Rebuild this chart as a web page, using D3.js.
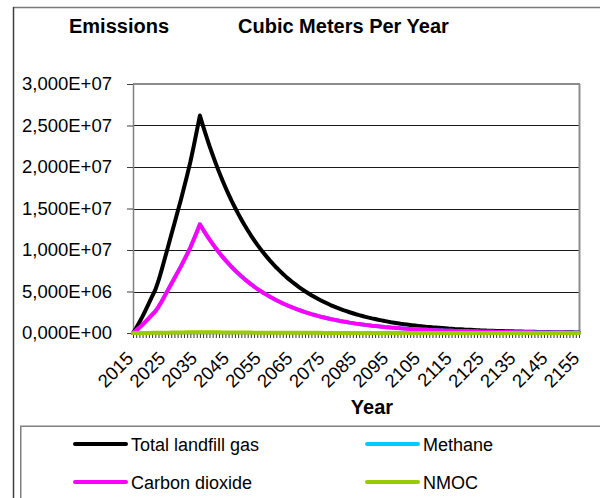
<!DOCTYPE html>
<html>
<head>
<meta charset="utf-8">
<script src="https://cdn.jsdelivr.net/npm/d3@7/dist/d3.min.js"></script>
<style>
  html, body { margin: 0; padding: 0; background: #fff; }
  svg { display: block; font-family: "Liberation Sans", Arial, sans-serif; }
</style>
</head>
<body>
<svg id="chart" width="600" height="498"></svg>
<script>
// ---- Data (values in millions of cubic metres per year) ----
const years = d3.range(2015, 2156);
const xTickLabels = ["2015","2025","2035","2045","2055","2065","2075","2085","2095","2105","2115","2125","2135","2145","2155"];
const yTickValues = [0, 5, 10, 15, 20, 25, 30];
const yTickLabels = ["0,000E+00","5,000E+06","1,000E+07","1,500E+07","2,000E+07","2,500E+07","3,000E+07"];
const seriesNames = ["Total landfill gas", "Methane", "Carbon dioxide", "NMOC"];
const seriesColors = ["#000000", "#00CCFF", "#FF00FF", "#99CC00"];

const totalGas = [
  0, 0.6, 1.3, 2.0, 2.8, 3.6, 4.4, 5.2, 6.3, 7.6, 9.0, 10.4, 11.8, 13.2, 14.6, 16.0, 17.5, 19.0, 20.6, 22.4, 24.3, 26.2,
  24.92, 23.71, 22.55, 21.45, 20.40, 19.41, 18.46, 17.56, 16.71, 15.89,
  15.12, 14.38, 13.68, 13.01, 12.38, 11.77, 11.20, 10.65, 10.13, 9.64,
  9.17, 8.72, 8.30, 7.89, 7.51, 7.14, 6.79, 6.46, 6.15, 5.85,
  5.56, 5.29, 5.03, 4.79, 4.55, 4.33, 4.12, 3.92, 3.73, 3.55,
  3.37, 3.21, 3.05, 2.90, 2.76, 2.63, 2.50, 2.38, 2.26, 2.15,
  2.05, 1.95, 1.85, 1.76, 1.68, 1.59, 1.52, 1.44, 1.37, 1.30,
  1.24, 1.18, 1.12, 1.07, 1.02, 0.97, 0.92, 0.88, 0.83, 0.79,
  0.75, 0.72, 0.68, 0.65, 0.62, 0.59, 0.56, 0.53, 0.51, 0.48,
  0.46, 0.44, 0.41, 0.39, 0.38, 0.36, 0.34, 0.32, 0.31, 0.29,
  0.28, 0.27, 0.25, 0.24, 0.23, 0.22, 0.21, 0.20, 0.19, 0.18,
  0.17, 0.16, 0.15, 0.15, 0.14, 0.13, 0.13, 0.12, 0.11, 0.11,
  0.10, 0.10, 0.09, 0.09, 0.08, 0.08, 0.08, 0.07, 0.07
];

const methane = [
  0, 0.3, 0.65, 1.0, 1.4, 1.8, 2.2, 2.6, 3.15, 3.8, 4.5, 5.2, 5.9, 6.6, 7.3, 8.0, 8.75, 9.5, 10.3, 11.2, 12.15, 13.1,
  12.46, 11.86, 11.28, 10.73, 10.20, 9.71, 9.23, 8.78, 8.36, 7.95,
  7.56, 7.19, 6.84, 6.51, 6.19, 5.89, 5.60, 5.33, 5.07, 4.82,
  4.59, 4.36, 4.15, 3.95, 3.76, 3.57, 3.40, 3.23, 3.08, 2.93,
  2.78, 2.65, 2.52, 2.40, 2.28, 2.17, 2.06, 1.96, 1.87, 1.78,
  1.69, 1.61, 1.53, 1.45, 1.38, 1.32, 1.25, 1.19, 1.13, 1.08,
  1.03, 0.98, 0.93, 0.88, 0.84, 0.80, 0.76, 0.72, 0.69, 0.65,
  0.62, 0.59, 0.56, 0.54, 0.51, 0.49, 0.46, 0.44, 0.42, 0.40,
  0.38, 0.36, 0.34, 0.33, 0.31, 0.30, 0.28, 0.27, 0.26, 0.24,
  0.23, 0.22, 0.21, 0.20, 0.19, 0.18, 0.17, 0.16, 0.16, 0.15,
  0.14, 0.14, 0.13, 0.12, 0.12, 0.11, 0.11, 0.10, 0.10, 0.09,
  0.09, 0.08, 0.08, 0.08, 0.07, 0.07, 0.07, 0.06, 0.06, 0.06,
  0.05, 0.05, 0.05, 0.05, 0.04, 0.04, 0.04, 0.04, 0.04
];

const carbonDioxide = [
  0, 0.3, 0.65, 1.0, 1.4, 1.8, 2.2, 2.6, 3.15, 3.8, 4.5, 5.2, 5.9, 6.6, 7.3, 8.0, 8.75, 9.5, 10.3, 11.2, 12.15, 13.1,
  12.46, 11.86, 11.28, 10.73, 10.20, 9.71, 9.23, 8.78, 8.36, 7.95,
  7.56, 7.19, 6.84, 6.51, 6.19, 5.89, 5.60, 5.33, 5.07, 4.82,
  4.59, 4.36, 4.15, 3.95, 3.76, 3.57, 3.40, 3.23, 3.08, 2.93,
  2.78, 2.65, 2.52, 2.40, 2.28, 2.17, 2.06, 1.96, 1.87, 1.78,
  1.69, 1.61, 1.53, 1.45, 1.38, 1.32, 1.25, 1.19, 1.13, 1.08,
  1.03, 0.98, 0.93, 0.88, 0.84, 0.80, 0.76, 0.72, 0.69, 0.65,
  0.62, 0.59, 0.56, 0.54, 0.51, 0.49, 0.46, 0.44, 0.42, 0.40,
  0.38, 0.36, 0.34, 0.33, 0.31, 0.30, 0.28, 0.27, 0.26, 0.24,
  0.23, 0.22, 0.21, 0.20, 0.19, 0.18, 0.17, 0.16, 0.16, 0.15,
  0.14, 0.14, 0.13, 0.12, 0.12, 0.11, 0.11, 0.10, 0.10, 0.09,
  0.09, 0.08, 0.08, 0.08, 0.07, 0.07, 0.07, 0.06, 0.06, 0.06,
  0.05, 0.05, 0.05, 0.05, 0.04, 0.04, 0.04, 0.04, 0.04
];

const nmoc = [
  0, 0.002, 0.005, 0.008, 0.011, 0.014, 0.018, 0.021, 0.025, 0.030, 0.036, 0.042, 0.047, 0.053, 0.058, 0.064, 0.070, 0.076, 0.082, 0.090, 0.097, 0.105,
  0.100, 0.095, 0.090, 0.086, 0.082, 0.078, 0.074, 0.070, 0.067, 0.064,
  0.060, 0.058, 0.055, 0.052, 0.050, 0.047, 0.045, 0.043, 0.041, 0.039,
  0.037, 0.035, 0.033, 0.032, 0.030, 0.029, 0.027, 0.026, 0.025, 0.023,
  0.022, 0.021, 0.020, 0.019, 0.018, 0.017, 0.016, 0.016, 0.015, 0.014,
  0.013, 0.013, 0.012, 0.012, 0.011, 0.011, 0.010, 0.010, 0.009, 0.009,
  0.008, 0.008, 0.007, 0.007, 0.007, 0.006, 0.006, 0.006, 0.005, 0.005,
  0.005, 0.005, 0.004, 0.004, 0.004, 0.004, 0.004, 0.003, 0.003, 0.003,
  0.003, 0.003, 0.003, 0.003, 0.002, 0.002, 0.002, 0.002, 0.002, 0.002,
  0.002, 0.002, 0.002, 0.002, 0.002, 0.001, 0.001, 0.001, 0.001, 0.001,
  0.001, 0.001, 0.001, 0.001, 0.001, 0.001, 0.001, 0.001, 0.001, 0.001,
  0.001, 0.001, 0.001, 0.001, 0.001, 0.001, 0.001, 0.001, 0.001, 0.001,
  0.001, 0.001, 0.001, 0.001, 0.001, 0.001, 0.001, 0.001, 0.001
];

const seriesValues = [totalGas, methane, carbonDioxide, nmoc];

// ---- Layout ----
const svg = d3.select("#chart");
const plot = { left: 133, right: 579, top: 84, bottom: 333 };

const x = d3.scalePoint().domain(years).range([plot.left, plot.right]);
const y = d3.scaleLinear().domain([0, 30]).range([plot.bottom, plot.top]);

// Outer chart border (top and left visible)
svg.append("line").attr("x1", 13).attr("x2", 600).attr("y1", 7.5).attr("y2", 7.5)
  .attr("stroke", "#7a7a7a").attr("stroke-width", 1.5);
svg.append("line").attr("x1", 13.5).attr("x2", 13.5).attr("y1", 7).attr("y2", 498)
  .attr("stroke", "#404040").attr("stroke-width", 1.5);

// Titles
svg.append("text").attr("x", 69).attr("y", 33).attr("font-size", 20).attr("font-weight", "bold")
  .text("Emissions");
svg.append("text").attr("x", 238).attr("y", 33).attr("font-size", 20).attr("font-weight", "bold")
  .text("Cubic Meters Per Year");

// Gridlines
svg.append("g").selectAll("line").data(yTickValues.filter(v => v > 0 && v < 30)).join("line")
  .attr("x1", plot.left).attr("x2", plot.right)
  .attr("y1", d => Math.round(y(d)) + 0.5).attr("y2", d => Math.round(y(d)) + 0.5)
  .attr("stroke", "#1a1a1a").attr("stroke-width", 1);

// Plot frame: top & right gray
svg.append("line").attr("x1", plot.left).attr("x2", plot.right + 1).attr("y1", plot.top).attr("y2", plot.top)
  .attr("stroke", "#8c8c8c").attr("stroke-width", 2);
svg.append("line").attr("x1", plot.right + 0.5).attr("x2", plot.right + 0.5).attr("y1", plot.top).attr("y2", plot.bottom)
  .attr("stroke", "#8c8c8c").attr("stroke-width", 2);

// Y axis
const yAxis = d3.axisLeft(y).tickValues(yTickValues).tickSize(6).tickSizeOuter(0)
  .tickFormat((d, i) => yTickLabels[i]);
const gy = svg.append("g").attr("transform", `translate(${plot.left},0)`).call(yAxis);
gy.select(".domain").attr("stroke", "#808080").attr("stroke-width", 1.5);
gy.selectAll(".tick line").attr("stroke", "#404040");
gy.selectAll(".tick text").attr("x", -21).attr("font-size", 18.5)
  .attr("font-family", "'Liberation Sans', Arial, sans-serif").attr("fill", "#000");

// X axis (tick every year)
const xAxis = d3.axisBottom(x).tickSize(5).tickSizeOuter(0).tickFormat(() => "");
const gx = svg.append("g").attr("transform", `translate(0,${plot.bottom})`).call(xAxis);
gx.select(".domain").attr("stroke", "#808080").attr("stroke-width", 1.5);
gx.selectAll(".tick line").attr("stroke", "#333");

// X tick labels rotated
svg.append("g").selectAll("text").data(xTickLabels).join("text")
  .attr("transform", d => `translate(${x(+d) - 3},${plot.bottom + 22}) rotate(-45)`)
  .attr("text-anchor", "end").attr("dy", "0.35em")
  .attr("font-size", 18.5).text(d => d);

// X axis title
svg.append("text").attr("x", 372).attr("y", 414).attr("text-anchor", "middle")
  .attr("font-size", 20).attr("font-weight", "bold").text("Year");

// Lines
const line = d3.line().x((d, i) => x(years[i])).y(d => y(d));
svg.append("g").selectAll("path").data(seriesValues).join("path")
  .attr("d", d => line(d))
  .attr("fill", "none")
  .attr("stroke", (d, i) => seriesColors[i])
  .attr("stroke-width", 4)
  .attr("stroke-linejoin", "round")
  .attr("stroke-linecap", "round");

// Legend
svg.append("rect").attr("x", 20.75).attr("y", 426.25).attr("width", 700).attr("height", 200)
  .attr("fill", "none").attr("stroke", "#808080").attr("stroke-width", 1.5);
const legendPos = [
  { lx: 75, tx: 131, ly: 444 },
  { lx: 367, tx: 423, ly: 444 },
  { lx: 75, tx: 131, ly: 482 },
  { lx: 367, tx: 423, ly: 482 }
];
const lg = svg.append("g").selectAll("g").data(seriesNames).join("g");
lg.append("line")
  .attr("x1", (d, i) => legendPos[i].lx).attr("x2", (d, i) => legendPos[i].lx + 51)
  .attr("y1", (d, i) => legendPos[i].ly).attr("y2", (d, i) => legendPos[i].ly)
  .attr("stroke", (d, i) => seriesColors[i]).attr("stroke-width", 4).attr("stroke-linecap", "round");
lg.append("text")
  .attr("x", (d, i) => legendPos[i].tx).attr("y", (d, i) => legendPos[i].ly + 7)
  .attr("font-size", 18).text(d => d);
</script>
</body>
</html>
